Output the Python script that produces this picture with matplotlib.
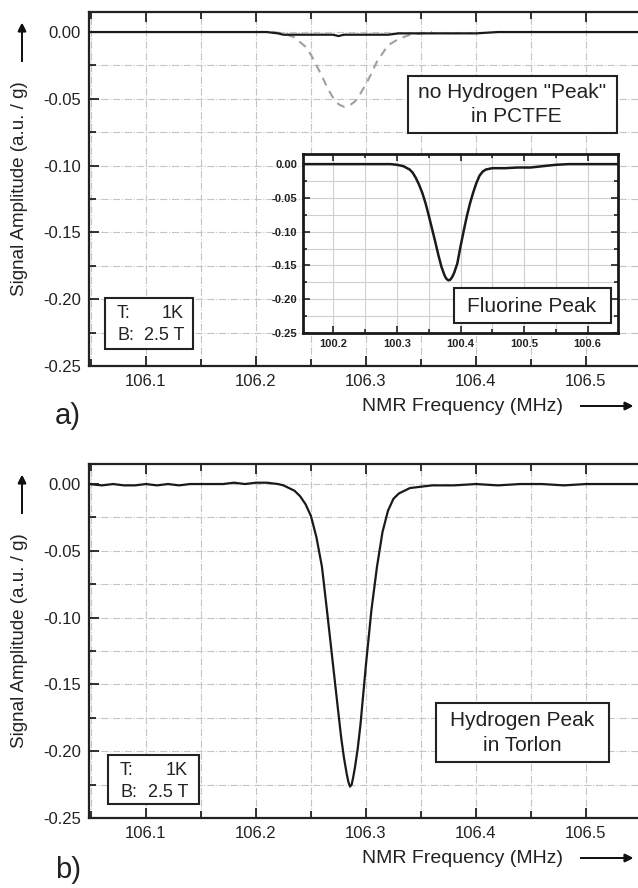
import matplotlib
matplotlib.use("Agg")
import matplotlib.pyplot as plt
from matplotlib.patches import Rectangle
from matplotlib.ticker import MultipleLocator, FixedLocator

plt.rcParams['font.family'] = ['Liberation Sans', 'DejaVu Sans']

# ---------------- data ----------------
# (a) PCTFE: measured signal (solid) and scaled hydrogen reference (dashed)
pctfe_x = [106.048, 106.06, 106.08, 106.10, 106.12, 106.14, 106.16, 106.18, 106.20, 106.21,
           106.22, 106.225, 106.23, 106.24, 106.25, 106.26, 106.27, 106.275, 106.28, 106.29,
           106.30, 106.31, 106.32, 106.33, 106.34, 106.36, 106.38, 106.40, 106.42, 106.44,
           106.46, 106.48, 106.50, 106.52, 106.547]
pctfe_y = [0.000, 0.000, 0.000, 0.000, 0.000, 0.000, 0.000, 0.000, 0.000, 0.000,
           -0.001, -0.002, -0.002, -0.002, -0.002, -0.002, -0.002, -0.003, -0.002, -0.002,
           -0.002, -0.002, -0.002, -0.001, -0.001, -0.001, -0.001, -0.001, 0.000, 0.000,
           0.000, 0.000, 0.000, 0.000, 0.000]

ref_x = [106.215, 106.225, 106.235, 106.245, 106.25, 106.255, 106.26, 106.265, 106.27, 106.275,
         106.28, 106.285, 106.29, 106.295, 106.30, 106.305, 106.31, 106.315, 106.32, 106.33,
         106.34, 106.35, 106.36]
ref_y = [0.000, -0.001, -0.004, -0.011, -0.017, -0.025, -0.033, -0.042, -0.049, -0.054,
         -0.056, -0.055, -0.052, -0.046, -0.039, -0.031, -0.022, -0.016, -0.010, -0.005,
         -0.002, -0.001, 0.000]

# inset: fluorine peak
fl_x = [100.152, 100.17, 100.19, 100.21, 100.23, 100.25, 100.27, 100.29, 100.30, 100.31,
        100.32, 100.325, 100.33, 100.335, 100.34, 100.345, 100.35, 100.355, 100.36, 100.365,
        100.37, 100.375, 100.378, 100.381, 100.384, 100.387, 100.39, 100.395, 100.40, 100.405,
        100.41, 100.415, 100.42, 100.425, 100.43, 100.435, 100.44, 100.45, 100.47, 100.49,
        100.51, 100.53, 100.55, 100.57, 100.60, 100.648]
fl_y = [0.000, 0.000, 0.000, 0.000, 0.000, 0.000, 0.000, 0.000, -0.001, -0.003,
        -0.008, -0.013, -0.021, -0.031, -0.043, -0.058, -0.076, -0.095, -0.114, -0.134,
        -0.152, -0.165, -0.170, -0.172, -0.171, -0.167, -0.161, -0.147, -0.122, -0.099,
        -0.077, -0.058, -0.042, -0.028, -0.017, -0.011, -0.008, -0.006, -0.006, -0.005,
        -0.005, -0.003, -0.001, 0.000, 0.000, 0.000]

# (b) Torlon: hydrogen peak
h_x = [106.048, 106.06, 106.07, 106.08, 106.09, 106.10, 106.11, 106.12, 106.13, 106.14,
       106.15, 106.16, 106.17, 106.18, 106.19, 106.20, 106.21, 106.22, 106.225, 106.23,
       106.235, 106.24, 106.245, 106.25, 106.255, 106.26, 106.265, 106.27, 106.275, 106.2775,
       106.28, 106.2825, 106.284, 106.2855, 106.287, 106.2885, 106.29, 106.2925, 106.295, 106.30,
       106.305, 106.31, 106.315, 106.32, 106.325, 106.33, 106.335, 106.34, 106.35, 106.36,
       106.38, 106.40, 106.42, 106.44, 106.46, 106.48, 106.50, 106.52, 106.547]
h_y = [0.000, -0.001, 0.000, -0.001, -0.001, 0.000, -0.001, 0.000, -0.001, 0.000,
       0.000, 0.000, 0.000, 0.001, 0.000, 0.001, 0.001, 0.000, -0.001, -0.003,
       -0.005, -0.009, -0.015, -0.024, -0.040, -0.062, -0.098, -0.135, -0.172, -0.190,
       -0.205, -0.217, -0.223, -0.2265, -0.225, -0.219, -0.212, -0.198, -0.180, -0.135,
       -0.094, -0.062, -0.036, -0.020, -0.011, -0.007, -0.005, -0.003, -0.002, -0.001,
       -0.001, 0.000, -0.001, 0.000, 0.000, -0.001, 0.000, 0.000, 0.000]

main_xticks = [106.1, 106.2, 106.3, 106.4, 106.5]
main_yticks = [0.00, -0.05, -0.10, -0.15, -0.20, -0.25]
inset_xticks = [100.2, 100.3, 100.4, 100.5, 100.6]

W, H = 638, 888
fig = plt.figure(figsize=(W / 100, H / 100), dpi=100)


def fx(px):
    return px / W


def fy(py):
    return 1 - py / H


def style_main(ax):
    ax.set_xlim(106.0482, 106.5473)
    ax.set_ylim(-0.25, 0.015)
    ax.xaxis.set_major_locator(FixedLocator(main_xticks))
    ax.xaxis.set_minor_locator(MultipleLocator(0.05))
    ax.yaxis.set_major_locator(FixedLocator(main_yticks))
    ax.yaxis.set_minor_locator(MultipleLocator(0.025))
    ax.set_xticklabels([f"{v:.1f}" for v in main_xticks])
    ax.set_yticklabels([f"{v:.2f}" for v in main_yticks])
    ax.tick_params(which='both', direction='in', top=True, right=False,
                   labelsize=12, width=1.3, colors='#222222', pad=6)
    ax.tick_params(which='major', length=7)
    ax.tick_params(which='minor', length=5)
    ax.grid(True, which='both', color='#c4c4c4', linestyle='-.', linewidth=0.8)
    ax.spines['right'].set_visible(False)
    for s in ['left', 'top', 'bottom']:
        ax.spines[s].set_linewidth(1.6)
        ax.spines[s].set_color('#222222')
    ax.set_axisbelow(True)


def box(x0, y0, x1, y1, lw=1.5):
    r = Rectangle((fx(x0), fy(y1)), fx(x1) - fx(x0), fy(y0) - fy(y1),
                  transform=fig.transFigure, facecolor='white', edgecolor='#222222',
                  linewidth=lw, zorder=10)
    fig.add_artist(r)


def txt(x, y, s, size=15, ha='center', **kw):
    fig.text(fx(x), fy(y), s, ha=ha, va='center', fontsize=size, color='#222222',
             zorder=11, **kw)


# ---------------- (a) ----------------
ax1 = fig.add_axes([fx(89), fy(366), 1 - fx(89), fy(12) - fy(366)])
style_main(ax1)
ax1.plot(ref_x, ref_y, color='#a0a0a0', linestyle=(0, (4, 3)), linewidth=1.5, zorder=3)
ax1.plot(pctfe_x, pctfe_y, color='#1a1a1a', linewidth=1.6, zorder=4)

# inset
axi = fig.add_axes([fx(303), fy(333), fx(618) - fx(303), fy(154) - fy(333)])
axi.set_xlim(100.152, 100.648)
axi.set_ylim(-0.25, 0.015)
axi.xaxis.set_major_locator(FixedLocator(inset_xticks))
axi.xaxis.set_minor_locator(MultipleLocator(0.05))
axi.yaxis.set_major_locator(FixedLocator(main_yticks))
axi.yaxis.set_minor_locator(MultipleLocator(0.025))
axi.set_xticklabels([f"{v:.1f}" for v in inset_xticks])
axi.set_yticklabels([f"{v:.2f}" for v in main_yticks])
axi.tick_params(which='both', direction='in', top=True, right=True, labelsize=8,
                width=1.2, colors='#222222', pad=4)
axi.tick_params(which='major', length=5)
axi.tick_params(which='minor', length=3)
for lab in axi.get_xticklabels() + axi.get_yticklabels():
    lab.set_fontweight('bold')
axi.grid(True, which='both', color='#cfcfcf', linestyle='-', linewidth=0.8)
axi.set_axisbelow(True)
for s in axi.spines.values():
    s.set_linewidth(2.0)
    s.set_color('#1a1a1a')
axi.plot(fl_x, fl_y, color='#1a1a1a', linewidth=1.8)

# ---------------- (b) ----------------
ax2 = fig.add_axes([fx(89), fy(818), 1 - fx(89), fy(464) - fy(818)])
style_main(ax2)
ax2.plot(h_x, h_y, color='#1a1a1a', linewidth=1.6, zorder=4)

# ---------------- annotations ----------------
# text boxes (a)
box(408, 76, 617, 133)
txt(512, 92, 'no Hydrogen "Peak"')
txt(516, 117, 'in PCTFE')

box(454, 288, 611, 323)
txt(532, 306, 'Fluorine Peak')

box(105, 298, 193, 349)
txt(117, 313, 'T:', size=13, ha='left')
txt(184, 313, '1K', size=13, ha='right')
txt(117, 335, 'B:', size=13, ha='left')
txt(184, 335, '2.5 T', size=13, ha='right')

# text boxes (b)
box(436, 703, 609, 762)
txt(522, 720, 'Hydrogen Peak')
txt(522, 745, 'in Torlon')

box(108, 755, 199, 804)
txt(120, 770, 'T:', size=13, ha='left')
txt(188, 770, '1K', size=13, ha='right')
txt(120, 792, 'B:', size=13, ha='left')
txt(188, 792, '2.5 T', size=13, ha='right')

# axis labels with arrows
for top, bot, lab_y in [(12, 366, 406), (464, 818, 858)]:
    cy = (top + bot) / 2
    fig.text(fx(20), fy(cy), 'Signal Amplitude (a.u. / g)', rotation=90,
             ha='center', va='center', fontsize=13.5, color='#222222')
    fig.add_artist(plt.annotate('', xy=(fx(22), fy(top + 8)), xytext=(fx(22), fy(top + 52)),
                                xycoords='figure fraction', textcoords='figure fraction',
                                arrowprops=dict(arrowstyle='-|>', color='#111111', lw=1.3,
                                                mutation_scale=12)))
    fig.text(fx(462), fy(lab_y), 'NMR Frequency (MHz)', ha='center', va='center',
             fontsize=14, color='#222222')
    fig.add_artist(plt.annotate('', xy=(fx(636), fy(lab_y)), xytext=(fx(578), fy(lab_y)),
                                xycoords='figure fraction', textcoords='figure fraction',
                                arrowprops=dict(arrowstyle='-|>', color='#111111', lw=1.3,
                                                mutation_scale=12)))

fig.text(fx(68), fy(416), 'a)', ha='center', va='center', fontsize=21, color='#222222')
fig.text(fx(68), fy(870), 'b)', ha='center', va='center', fontsize=21, color='#222222')

fig.savefig('out.png', dpi=100)
